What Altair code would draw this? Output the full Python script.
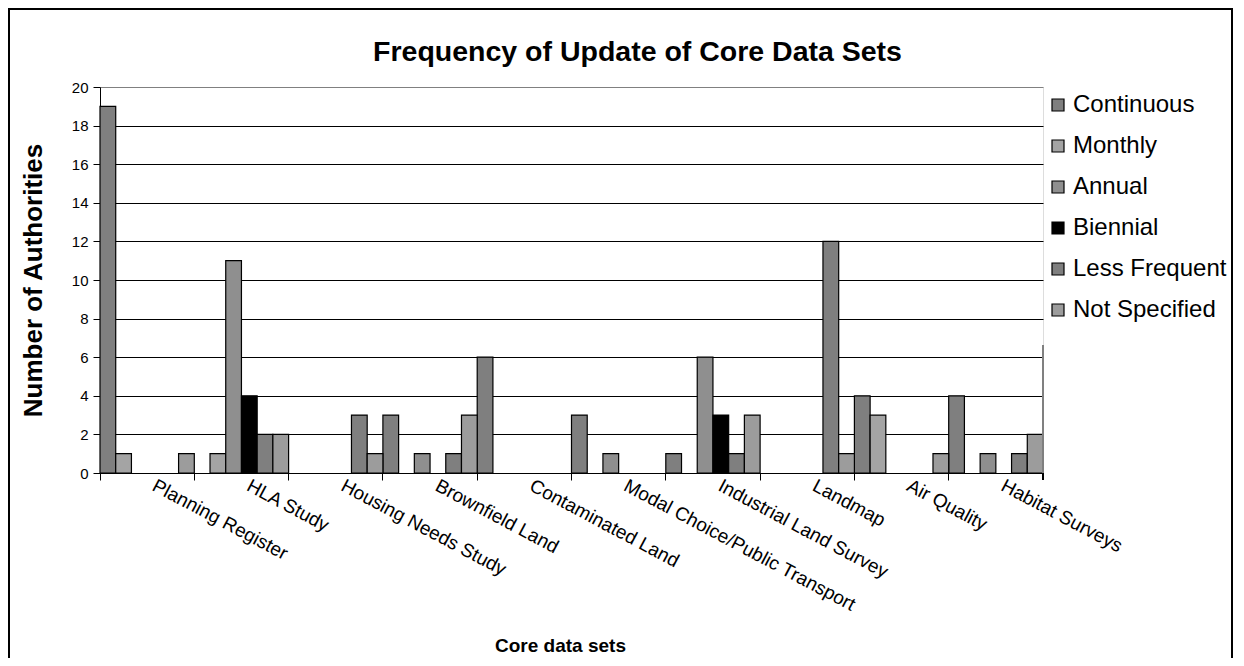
import altair as alt
import pandas as pd

categories = ["Planning Register", "HLA Study", "Housing Needs Study", "Brownfield Land",
              "Contaminated Land", "Modal Choice/Public Transport", "Industrial Land Survey",
              "Landmap", "Air Quality", "Habitat Surveys"]
series = ["Continuous", "Monthly", "Annual", "Biennial", "Less Frequent", "Not Specified"]
continuous = [19, 0, 0, 3, 6, 3, 1, 0, 4, 4]
monthly = [1, 1, 0, 0, 0, 0, 0, 0, 3, 0]
annual = [0, 11, 0, 1, 0, 1, 6, 0, 0, 1]
biennial = [0, 4, 0, 0, 0, 0, 3, 0, 0, 0]
less_frequent = [0, 2, 3, 1, 0, 0, 1, 12, 0, 1]
not_specified = [1, 2, 1, 3, 0, 0, 3, 1, 1, 2]
colors = ["#7f7f7f", "#a4a4a4", "#8f8f8f", "#000000", "#7f7f7f", "#9c9c9c"]
y_ticks = [0, 2, 4, 6, 8, 10, 12, 14, 16, 18, 20]

values_by_series = [continuous, monthly, annual, biennial, less_frequent, not_specified]
rows = []
for s, vals in zip(series, values_by_series):
    for c, v in zip(categories, vals):
        rows.append({"category": c, "series": s, "value": v})
df = pd.DataFrame(rows)

W, H = 943, 386
FONT = "Liberation Sans"

bars = alt.Chart(df).transform_filter("datum.value > 0").mark_bar(
    stroke="black", strokeWidth=1.2
).encode(
    x=alt.X("category:N", sort=categories,
            scale=alt.Scale(domain=categories, paddingInner=0, paddingOuter=0),
            axis=alt.Axis(title="Core data sets", bandPosition=0, labelAngle=28,
                          labelAlign="left", labelBaseline="top", labelOffset=11,
                          labelPadding=-4, labelFontSize=19, labelFont=FONT,
                          labelColor="black", labelOverlap=False, labelLimit=500,
                          tickSize=7, tickColor="black", domainColor="black",
                          titleFontSize=19, titleFont=FONT, titleFontWeight="bold",
                          titleColor="black", titleX=460, titleY=178,
                          titleAnchor="middle", titleAlign="center",
                          titleBaseline="alphabetic")),
    xOffset=alt.XOffset("series:N", scale=alt.Scale(domain=series, paddingInner=0, paddingOuter=0)),
    y=alt.Y("value:Q", scale=alt.Scale(domain=[0, 20], nice=False),
            axis=alt.Axis(title="Number of Authorities", values=y_ticks,
                          grid=True,
                          gridColor={"condition": {"test": "datum.value === 20", "value": "#808080"}, "value": "black"},
                          gridWidth=1, tickSize=7, tickColor="black", domainColor="black",
                          labelFontSize=15, labelFont=FONT, labelColor="black", labelPadding=5,
                          titleFontSize=26, titleFont=FONT, titleFontWeight="bold",
                          titleColor="black", titleAngle=-90, titleX=-67, titleY=H / 2,
                          titleAlign="center", titleBaseline="middle")),
    color=alt.Color("series:N", sort=series,
                    scale=alt.Scale(domain=series, range=colors),
                    legend=alt.Legend(title=None, orient="none", legendX=946, legendY=6,
                                      padding=0,
                                      symbolType="square", symbolSize=144,
                                      symbolStrokeColor="black", symbolStrokeWidth=1.2,
                                      labelFontSize=24, labelFont=FONT, labelColor="black",
                                      labelOffset=3, rowPadding=17, labelLimit=300)),
)

end_tick = alt.Chart(df).mark_rule(color="black", strokeWidth=1).encode(
    x=alt.value(W), y=alt.value(H), y2=alt.value(H + 7)
)

right_border = alt.Chart(df).mark_rule(color="#808080", strokeWidth=1).encode(
    x=alt.value(W), y=alt.value(258), y2=alt.value(H)
)

outer = alt.Chart(df).mark_rect(fill=None, stroke="black", strokeWidth=2).encode(
    x=alt.value(-91), x2=alt.value(1132), y=alt.value(-78), y2=alt.value(600)
)

chart = alt.layer(bars, end_tick, right_border, outer).properties(
    width=W, height=H,
    autosize=alt.AutoSizeParams(type="none"),
    padding={"left": 92, "top": 79, "right": 190, "bottom": 185},
    title=alt.TitleParams("Frequency of Update of Core Data Sets", fontSize=28.5,
                          font=FONT, fontWeight="bold", color="black",
                          anchor="middle", frame="group", dx=66, offset=-58),
).configure_view(stroke=None).configure(background="white")

chart.save("out.html", embed_options={"renderer": "svg", "actions": False})
